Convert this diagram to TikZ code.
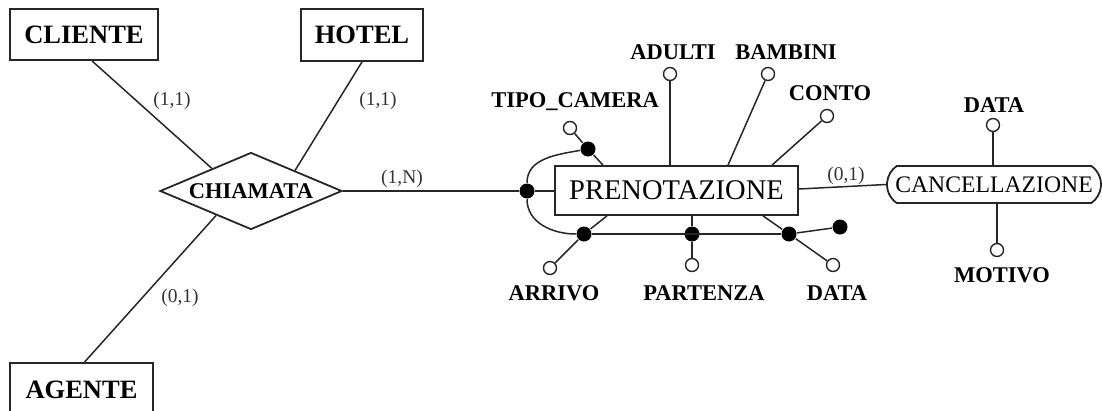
\documentclass[tikz,border=0pt]{standalone}
\usepackage{fontspec}
\setmainfont{Liberation Serif}
\usetikzlibrary{shapes.geometric,shapes.misc}
\newcommand{\fs}[1]{\fontsize{#1}{#1}\selectfont}
\begin{document}
\begin{tikzpicture}[x=1pt,y=-1pt,
  line width=1.5pt, draw=black!85,
  entity/.style={draw, line width=1.8pt, inner sep=0pt, font=\fs{26.5}\bfseries},
  relation/.style={draw, diamond, aspect=2.4, inner sep=0pt, minimum width=182pt, minimum height=77pt, line width=1.8pt, font=\fs{22.5}\bfseries},
  attrc/.style={circle, draw, fill=white, minimum size=13pt, inner sep=0pt, line width=1.4pt},
  fdot/.style={circle, fill=black, minimum size=15pt, inner sep=0pt},
  lbl/.style={font=\fs{22.5}\bfseries, inner sep=0pt},
  card/.style={font=\fs{19.5}, text=black!80, inner sep=0pt}]
\useasboundingbox (0,0) rectangle (1102,410);
\clip (0,0) rectangle (1102,410);

% entities
\node[entity, minimum width=148pt, minimum height=51pt] (cliente) at (84,34.5) {CLIENTE};
\node[entity, minimum width=122pt, minimum height=52pt] (hotel) at (362,35) {HOTEL};
\node[entity, minimum width=143pt, minimum height=54pt] (agente) at (81.5,390) {AGENTE};
\node[relation] (chiamata) at (251,191) {CHIAMATA};
\node[entity, minimum width=243pt, minimum height=49pt, font=\fs{28.5}] (preno) at (676.5,190.5) {PRENOTAZIONE};
\node[draw, rounded rectangle, rounded rectangle arc length=110, minimum width=214pt, minimum height=37pt, inner sep=0pt, line width=1.8pt, font=\fs{23.7}] (canc) at (994,184.5) {CANCELLAZIONE};

% relationship connectors
\draw ([xshift=8pt]cliente.south) -- (chiamata.150);
\draw (hotel.south) -- (chiamata.25);
\draw ([xshift=3pt]agente.north) -- (chiamata.215);
\node[card] (c1) at (172,101) {(1,1)};
\node[card] (c2) at (378,101) {(1,1)};
\node[card] (c3) at (180,298) {(0,1)};
\node[card] (c4) at (402,179) {(1,N)};

% identifier dots
\node[fdot] (ldot) at (527,191) {};
\node[fdot] (tdot) at (588,149) {};
\node[fdot] (adot) at (584,234) {};
\node[fdot] (pdot) at (692,234) {};
\node[fdot] (ddot) at (789,234) {};
\node[fdot] (edot) at (840,227) {};

\draw (chiamata.east) -- (ldot) -- (preno.west |- ldot);
\draw (tdot) to[out=190,in=90] (ldot);
\draw (ldot) to[out=-90,in=180] (adot);
\draw[line width=2.8pt] (adot) -- (ddot);
\draw (ddot) -- (edot);

% PRENOTAZIONE attributes
\node[attrc] (tipoc) at (570,128) {};
\node[lbl] (tipol) at (575,102) {TIPO\_CAMERA};
\draw (tipoc) -- (tdot) -- ([xshift=-73.5pt]preno.north);

\node[attrc] (adultic) at (670,74) {};
\node[lbl] (adultil) at (673,52) {ADULTI};
\draw (adultic) -- (adultic |- preno.north);

\node[attrc] (bambinic) at (768,74) {};
\node[lbl] (bambinil) at (786,52) {BAMBINI};
\draw (bambinic) -- ([xshift=51.5pt]preno.north);

\node[attrc] (contoc) at (827,116) {};
\node[lbl] (contol) at (830,93) {CONTO};
\draw (contoc) -- ([xshift=95.5pt]preno.north);

\node[attrc] (arrivoc) at (550,268) {};
\node[lbl] (arrivol) at (554,293) {ARRIVO};
\draw ([xshift=-69.5pt]preno.south) -- (adot) -- (arrivoc);

\node[attrc] (partc) at (692,265) {};
\node[lbl] (partl) at (704,293) {PARTENZA};
\draw (pdot |- preno.south) -- (pdot) -- (partc);

\node[attrc] (datac) at (833,265) {};
\node[lbl] (datal) at (837,293) {DATA};
\draw ([xshift=86.5pt]preno.south) -- (ddot) -- (datac);

% PRENOTAZIONE - CANCELLAZIONE
\draw ([yshift=1.5pt]preno.east) -- (canc.west);
\node[card] (c5) at (846,176) {(0,1)};

% CANCELLAZIONE attributes
\node[attrc] (cdatac) at (993,125) {};
\node[lbl] (cdatal) at (994,105) {DATA};
\draw (cdatac) -- (cdatac |- canc.north);

\node[attrc] (motivoc) at (997,250) {};
\node[lbl] (motivol) at (1002,275) {MOTIVO};
\draw (motivoc) -- (motivoc |- canc.south);
\end{tikzpicture}
\end{document}
